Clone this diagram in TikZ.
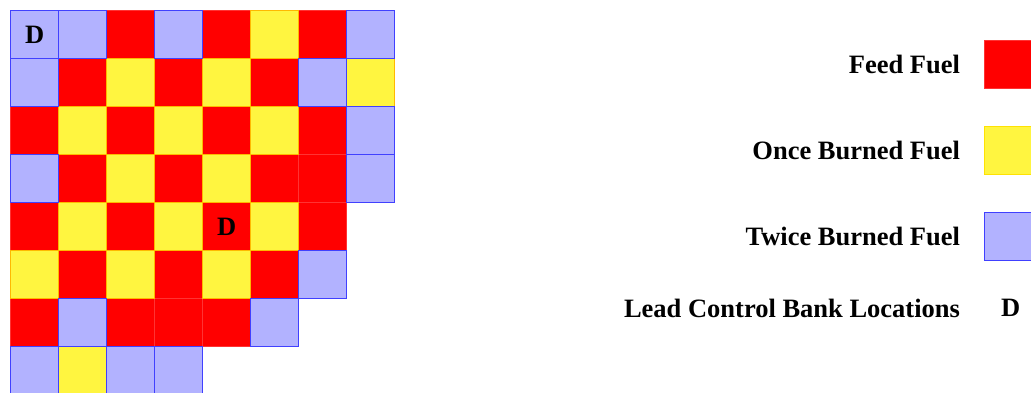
\documentclass[tikz,border=0pt]{standalone}
\usepackage{fontspec}
\setmainfont{Liberation Serif}
\begin{document}
\begin{tikzpicture}[x=1pt,y=-1pt,
  lbl/.style={font=\fontsize{26.5}{30}\selectfont\bfseries, inner sep=0pt, outer sep=0pt},
  cell/.style={line width=1pt, minimum size=48pt, inner sep=0pt, outer sep=0pt, anchor=north west},
  feed/.style={cell, fill=red, draw=red!80!white},
  once/.style={cell, fill=yellow!75!white, draw=orange!55!yellow},
  twice/.style={cell, fill=blue!30!white, draw=blue!75!white},
  oncekey/.style={cell, fill=yellow!75!white, draw=yellow!85!orange}]
\useasboundingbox (0,0) rectangle (1031,392);
\def\org{10.7}
\def\sz{48}
% core loading map: feed fuel first, then once burned, then twice burned on top
\foreach \r/\c in {0/2,0/4,0/6,1/1,1/3,1/5,2/0,2/2,2/4,2/6,3/1,3/3,3/5,3/6,
                   4/0,4/2,4/4,4/6,5/1,5/3,5/5,6/0,6/2,6/3,6/4}
  \node[feed] (c\r-\c) at ({\org+\sz*\c},{\org+\sz*\r}) {};
\foreach \r/\c in {0/5,1/2,1/4,1/7,2/1,2/3,2/5,3/2,3/4,4/1,4/3,4/5,5/0,5/2,5/4,7/1}
  \node[once] (c\r-\c) at ({\org+\sz*\c},{\org+\sz*\r}) {};
\foreach \r/\c in {0/0,0/1,0/3,0/7,1/0,1/6,2/7,3/0,3/7,5/6,6/1,6/5,7/0,7/2,7/3}
  \node[twice] (c\r-\c) at ({\org+\sz*\c},{\org+\sz*\r}) {};
% lead control bank locations
\node[lbl] (d1) at (c0-0.center) {D};
\node[lbl] (d2) at (c4-4.center) {D};
% legend
\node[feed]    (kfeed)  at (984.3,40.4) {};
\node[oncekey] (konce)  at (984.3,126.5) {};
\node[twice]   (ktwice) at (984.3,212.9) {};
\node[lbl, anchor=east] (tfeed)  at (960,64.4)  {Feed Fuel};
\node[lbl, anchor=east] (tonce)  at (960,150.5) {Once Burned Fuel};
\node[lbl, anchor=east] (ttwice) at (960,236.9) {Twice Burned Fuel};
\node[lbl, anchor=east] (tlead)  at (960,308.3) {Lead Control Bank Locations};
\node[lbl] (kd) at (1010.8,308.3) {D};
\end{tikzpicture}
\end{document}
